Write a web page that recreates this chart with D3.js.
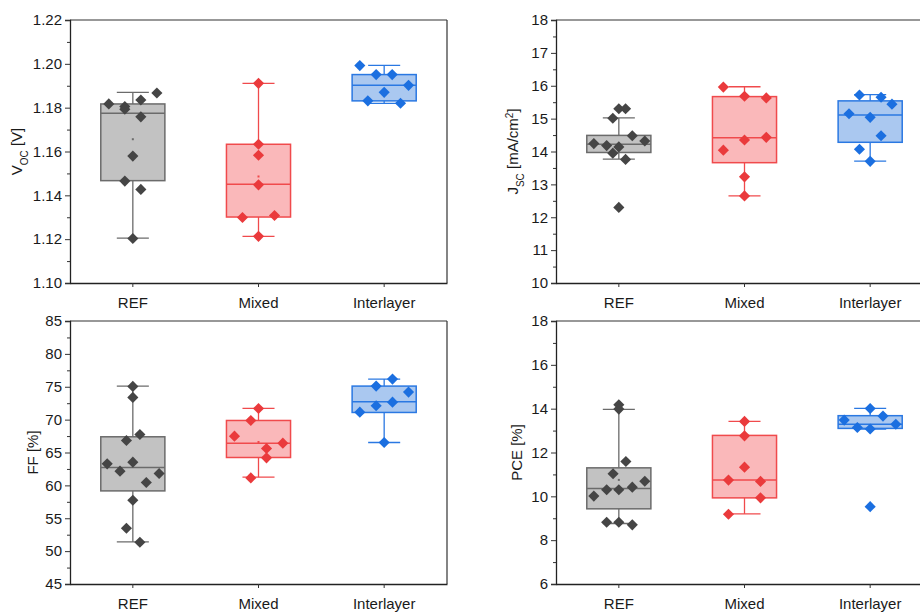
<!DOCTYPE html>
<html>
<head>
<meta charset="utf-8">
<script src="https://cdn.jsdelivr.net/npm/d3@7"></script>
<style>
  html, body { margin: 0; padding: 0; background: #fff; }
  svg { display: block; font-family: "Liberation Sans", Arial, sans-serif; }
</style>
</head>
<body>
<svg id="chart" width="920" height="612"></svg>
<script>
// Device groups
const categories = ["REF", "Mixed", "Interlayer"];

// Open-circuit voltage (V), one array per group
const vocREF   = [1.1817, 1.1805, 1.1793, 1.1835, 1.1867, 1.1758, 1.1579, 1.1465, 1.1427, 1.1203];
const vocMixed = [1.1911, 1.1633, 1.1583, 1.1448, 1.1299, 1.1308, 1.1213];
const vocInter = [1.1992, 1.1951, 1.1951, 1.1870, 1.1902, 1.1831, 1.1820];

// Short-circuit current density (mA/cm²)
const jscREF   = [15.30, 15.30, 15.01, 14.24, 14.18, 14.14, 13.95, 14.48, 14.32, 13.76, 12.30];
const jscMixed = [15.96, 15.68, 15.63, 14.04, 14.35, 14.43, 13.23, 12.65];
const jscInter = [15.72, 15.65, 15.44, 15.15, 15.04, 14.48, 14.07, 13.70];

// Fill factor (%)
const ffREF   = [75.05, 73.38, 67.74, 66.83, 63.27, 63.53, 62.16, 61.80, 60.43, 57.74, 53.48, 51.35];
const ffMixed = [71.70, 69.87, 67.49, 66.42, 65.61, 64.19, 61.14];
const ffInter = [76.17, 75.10, 74.19, 72.11, 72.66, 71.14, 66.52];

// Power conversion efficiency (%)
const pceREF   = [14.18, 13.98, 11.59, 11.03, 10.69, 10.42, 10.30, 10.30, 10.01, 8.82, 8.82, 8.70];
const pceMixed = [13.42, 12.76, 11.33, 10.74, 10.68, 9.93, 9.18];
const pceInter = [14.01, 13.66, 13.48, 13.29, 13.14, 13.07, 9.53];

// Horizontal spread of each point, as a fraction of the box width
const vocREFSpread   = [-0.375, -0.125, -0.125, 0.125, 0.375, 0.125, 0, -0.125, 0.125, 0];
const vocMixedSpread = [0, 0, 0, 0, -0.25, 0.25, 0];
const vocInterSpread = [-0.38, -0.125, 0.125, 0, 0.38, -0.255, 0.255];
const jscREFSpread   = [0, 0.105, -0.094, -0.39, -0.19, 0, -0.094, 0.21, 0.405, 0.105, 0];
const jscMixedSpread = [-0.33, 0, 0.34, -0.33, 0, 0.34, 0, 0];
const jscInterSpread = [-0.167, 0.17, 0.34, -0.33, 0, 0.17, -0.167, 0];
const ffREFSpread    = [0, 0, 0.11, -0.1, -0.4, 0, -0.2, 0.41, 0.21, 0, -0.1, 0.11];
const ffMixedSpread  = [0, -0.12, -0.375, 0.38, 0.125, 0.125, -0.12];
const ffInterSpread  = [0.13, -0.125, 0.38, -0.125, 0.13, -0.38, 0];
const pceREFSpread   = [0, 0, 0.11, -0.09, 0.405, 0.21, -0.19, 0, -0.39, -0.19, 0, 0.21];
const pceMixedSpread = [0, 0, 0, -0.25, 0.25, 0.25, -0.25];
const pceInterSpread = [0, 0.2, -0.405, 0.4, -0.2, 0, 0];

// Box statistics per group: [whisker low, Q1, median, Q3, whisker high, mean]
const vocStats = [
  [1.1205, 1.1467, 1.1775, 1.1817, 1.1870, 1.1656],
  [1.1213, 1.1301, 1.1451, 1.1633, 1.1911, 1.1486],
  [1.1820, 1.1831, 1.1902, 1.1951, 1.1993, null]
];
const jscStats = [
  [13.77, 13.97, 14.22, 14.49, 15.02, null],
  [12.65, 13.66, 14.42, 15.67, 15.97, null],
  [13.71, 14.28, 15.11, 15.54, 15.73, null]
];
const ffStats = [
  [51.40, 59.16, 62.72, 67.39, 75.10, null],
  [61.24, 64.24, 66.42, 69.87, 71.70, 66.60],
  [66.52, 71.09, 72.72, 75.10, 76.17, null]
];
const pceStats = [
  [8.76, 9.43, 10.36, 11.30, 13.97, 10.75],
  [9.20, 9.93, 10.75, 12.78, 13.42, null],
  [13.07, 13.10, 13.29, 13.68, 14.01, null]
];

// Axis tick values
const vocTicks = [1.10, 1.12, 1.14, 1.16, 1.18, 1.20, 1.22];
const jscTicks = [10, 11, 12, 13, 14, 15, 16, 17, 18];
const ffTicks  = [45, 50, 55, 60, 65, 70, 75, 80, 85];
const pceTicks = [6, 8, 10, 12, 14, 16, 18];

const palette = {
  REF:        { fill: "#c2c2c2", stroke: "#6b6b6b", point: "#454545" },
  Mixed:      { fill: "#fab8ba", stroke: "#f04a4c", point: "#ea3a3c" },
  Interlayer: { fill: "#aac8f0", stroke: "#2a78e2", point: "#1b6fe0" }
};

const FONT = 15;
const svg = d3.select("#chart");

function drawPanel(opt) {
  const { left, top, width, height } = opt;
  const g = svg.append("g").attr("transform", `translate(${left},${top})`);

  const x = d3.scaleBand().domain(categories).range([0, width])
    .paddingInner(0.49).paddingOuter(0.245);
  const y = d3.scaleLinear().domain([opt.ticks[0], opt.ticks[opt.ticks.length - 1]]).range([height, 0]);
  const bw = x.bandwidth();

  // frame (top and right lines)
  g.append("line").attr("x1", 0).attr("x2", width).attr("y1", 0).attr("y2", 0)
    .attr("stroke", "#333").attr("stroke-width", 1.2);
  g.append("line").attr("x1", width).attr("x2", width).attr("y1", 0).attr("y2", height)
    .attr("stroke", "#333").attr("stroke-width", 1.2);

  // boxes, whiskers and points
  categories.forEach((cat, i) => {
    const c = palette[cat];
    const [wLo, q1, med, q3, wHi, mean] = opt.stats[i];
    const cx = x(cat) + bw / 2;
    const bg = g.append("g");

    bg.append("line").attr("x1", cx).attr("x2", cx).attr("y1", y(q3)).attr("y2", y(wHi))
      .attr("stroke", c.stroke).attr("stroke-width", 1.3);
    bg.append("line").attr("x1", cx).attr("x2", cx).attr("y1", y(q1)).attr("y2", y(wLo))
      .attr("stroke", c.stroke).attr("stroke-width", 1.3);
    [wLo, wHi].forEach(v => {
      bg.append("line").attr("x1", cx - bw / 4).attr("x2", cx + bw / 4).attr("y1", y(v)).attr("y2", y(v))
        .attr("stroke", c.stroke).attr("stroke-width", 1.3);
    });
    bg.append("rect").attr("x", x(cat)).attr("y", y(q3)).attr("width", bw).attr("height", y(q1) - y(q3))
      .attr("fill", c.fill).attr("stroke", c.stroke).attr("stroke-width", 1.5);
    bg.append("line").attr("x1", x(cat)).attr("x2", x(cat) + bw).attr("y1", y(med)).attr("y2", y(med))
      .attr("stroke", c.stroke).attr("stroke-width", 1.5);
    if (mean != null) {
      bg.append("rect").attr("x", cx - 1).attr("y", y(mean) - 1).attr("width", 2).attr("height", 2)
        .attr("fill", c.stroke);
    }

    const vals = opt.values[i];
    const spread = opt.spread[i];
    const sym = d3.symbol(d3.symbolSquare, 62);
    bg.selectAll("path.pt").data(vals).join("path")
      .attr("class", "pt")
      .attr("d", sym)
      .attr("transform", (d, j) => `translate(${cx + spread[j] * bw},${y(d)}) rotate(45)`)
      .attr("fill", c.point);
  });

  // y axis with minor ticks
  const minor = [];
  for (let k = 0; k < opt.ticks.length - 1; k++) minor.push((opt.ticks[k] + opt.ticks[k + 1]) / 2);
  const yMinor = g.append("g").call(d3.axisLeft(y).tickValues(minor).tickSize(3).tickFormat(""));
  yMinor.select(".domain").remove();
  yMinor.selectAll("line").attr("stroke", "#333").attr("stroke-width", 1);
  const yAxis = g.append("g").call(d3.axisLeft(y).tickValues(opt.ticks).tickSize(5).tickPadding(3).tickFormat(opt.format));
  yAxis.select(".domain").attr("stroke", "#222").attr("stroke-width", 1.3);
  yAxis.selectAll("line").attr("stroke", "#333").attr("stroke-width", 1);
  yAxis.selectAll("text").attr("font-size", FONT).attr("fill", "#1a1a1a")
    .attr("font-family", "Liberation Sans, Arial, sans-serif");

  // x axis
  const xAxis = g.append("g").attr("transform", `translate(0,${height})`)
    .call(d3.axisBottom(x).tickSize(4).tickPadding(10).tickSizeOuter(0));
  xAxis.select(".domain").attr("stroke", "#222").attr("stroke-width", 1.3);
  xAxis.selectAll("line").attr("stroke", "#333").attr("stroke-width", 1);
  xAxis.selectAll("text").attr("font-size", FONT).attr("fill", "#1a1a1a")
    .attr("font-family", "Liberation Sans, Arial, sans-serif");

  // y title
  const t = g.append("text")
    .attr("transform", `translate(${opt.titleX},${height / 2}) rotate(-90)`)
    .attr("text-anchor", "middle")
    .attr("font-size", FONT).attr("fill", "#1a1a1a");
  opt.title.forEach(part => {
    const ts = t.append("tspan").text(part.text);
    if (part.sub) ts.attr("baseline-shift", "sub").attr("font-size", 10);
    if (part.sup) ts.attr("baseline-shift", "super").attr("font-size", 10);
  });
}

const W = 377, H = 263;

drawPanel({
  left: 70, top: 20, width: W, height: H,
  ticks: vocTicks, format: d3.format(".2f"),
  values: [vocREF, vocMixed, vocInter],
  spread: [vocREFSpread, vocMixedSpread, vocInterSpread],
  stats: vocStats, titleX: -48,
  title: [{ text: "V" }, { text: "OC", sub: true }, { text: " [V]" }]
});

drawPanel({
  left: 556, top: 20, width: W, height: H,
  ticks: jscTicks, format: d3.format("d"),
  values: [jscREF, jscMixed, jscInter],
  spread: [jscREFSpread, jscMixedSpread, jscInterSpread],
  stats: jscStats, titleX: -38,
  title: [{ text: "J" }, { text: "SC", sub: true }, { text: " [mA/cm" }, { text: "2", sup: true }, { text: "]" }]
});

drawPanel({
  left: 70, top: 321, width: W, height: H,
  ticks: ffTicks, format: d3.format("d"),
  values: [ffREF, ffMixed, ffInter],
  spread: [ffREFSpread, ffMixedSpread, ffInterSpread],
  stats: ffStats, titleX: -32,
  title: [{ text: "FF [%]" }]
});

drawPanel({
  left: 556, top: 321, width: W, height: H,
  ticks: pceTicks, format: d3.format("d"),
  values: [pceREF, pceMixed, pceInter],
  spread: [pceREFSpread, pceMixedSpread, pceInterSpread],
  stats: pceStats, titleX: -34,
  title: [{ text: "PCE [%]" }]
});
</script>
</body>
</html>
